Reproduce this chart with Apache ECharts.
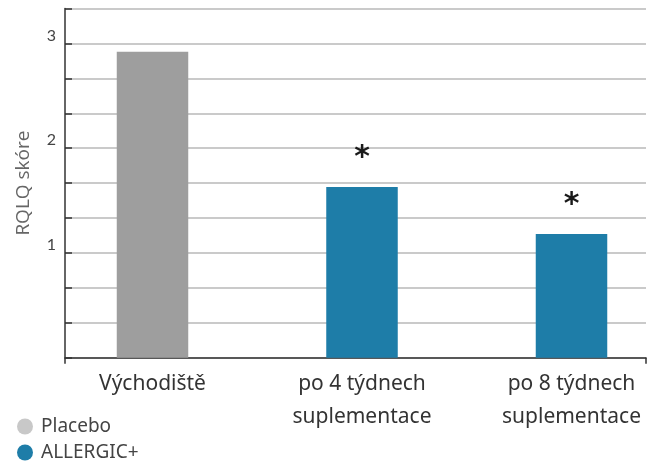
<!DOCTYPE html>
<html>
<head>
<meta charset="utf-8">
<script src="https://cdn.jsdelivr.net/npm/echarts@6/dist/echarts.min.js"></script>
<style>
  html, body { margin: 0; padding: 0; background: #ffffff; }
  #chart { width: 654px; height: 462px; }
</style>
</head>
<body>
<div id="chart"></div>
<script>
// RQLQ score at baseline and after 4 / 8 weeks of supplementation
const categories = ['Východiště', 'po 4 týdnech\nsuplementace', 'po 8 týdnech\nsuplementace'];
const placeboValues = [2.92, null, null];
const allergicValues = [null, 1.63, 1.18];
const significance = ['', '*', '*'];
const yTickLabels = [1, 2, 3];
const yMax = 10 / 3;
const yStep = 1 / 3;

const seriesNames = ['Placebo', 'ALLERGIC+'];
const barColors = ['#9e9e9e', '#1e7da8'];
const legendColors = ['#c8c8c8', '#1e7da8'];

const plotTop = 8.5;
const plotHeight = 349.2;

function withMarks(values) {
  return values.map((v, i) => v == null ? '-' : {
    value: v,
    label: { show: significance[i] !== '', formatter: significance[i] }
  });
}

// one legend block per series, stacked under the axis
function legendRow(i, top) {
  return {
    orient: 'vertical',
    left: 17,
    top: top,
    padding: 0,
    itemWidth: 16,
    itemHeight: 16,
    icon: 'circle',
    textStyle: { fontFamily: 'Noto Sans', fontSize: 19, color: '#444', padding: [0, 0, 0, 3] },
    data: [{ name: seriesNames[i], itemStyle: { color: legendColors[i] } }]
  };
}

const chart = echarts.init(document.getElementById('chart'), null, { renderer: 'canvas' });

chart.setOption({
  backgroundColor: '#ffffff',
  animation: false,
  legend: [legendRow(0, 417), legendRow(1, 443)],
  grid: [
    // frame: value axis, gridlines and baseline
    { left: 65, width: 581, top: plotTop, height: plotHeight },
    // bars and category labels; categories sit on the grid edges
    { left: 152.5, width: 419, top: plotTop, height: plotHeight }
  ],
  xAxis: [
    {
      gridIndex: 0, type: 'value', min: 0, max: 1, interval: 1,
      axisLine: { show: true, lineStyle: { color: '#333', width: 1.5 } },
      axisTick: { show: true, length: 6, lineStyle: { color: '#333', width: 1.5 } },
      axisLabel: { show: false },
      splitLine: { show: false }
    },
    {
      gridIndex: 1, type: 'category', data: categories, boundaryGap: false,
      axisLine: { show: false },
      axisTick: { show: false },
      axisLabel: {
        margin: 10, fontFamily: 'Noto Sans', fontSize: 21, lineHeight: 33,
        color: '#333', interval: 0
      }
    }
  ],
  yAxis: [
    {
      gridIndex: 0, type: 'value', min: 0, max: yMax, interval: yStep,
      name: 'RQLQ skóre', nameLocation: 'middle', nameGap: 32,
      nameTextStyle: { fontFamily: 'Open Sans', fontSize: 19, color: '#666' },
      axisLine: { show: true, lineStyle: { color: '#333', width: 1.5 } },
      axisTick: { show: true, inside: true, length: 7, lineStyle: { color: '#333', width: 1.5 } },
      axisLabel: {
        margin: 9, fontFamily: 'Lato', fontSize: 16, color: '#444', verticalAlign: 'bottom',
        formatter: v => {
          const r = Math.round(v);
          return Math.abs(v - r) < 1e-6 && yTickLabels.includes(r) ? String(r) : '';
        }
      },
      splitLine: { show: true, lineStyle: { color: '#b8b8b8', width: 1.6 } }
    },
    {
      gridIndex: 1, type: 'value', min: 0, max: yMax, interval: yStep, show: false
    }
  ],
  series: [
    {
      name: seriesNames[0], type: 'bar', xAxisIndex: 1, yAxisIndex: 1,
      barWidth: 71.5, barGap: '-100%',
      itemStyle: { color: barColors[0] },
      data: withMarks(placeboValues)
    },
    {
      name: seriesNames[1], type: 'bar', xAxisIndex: 1, yAxisIndex: 1,
      barWidth: 71.5, barGap: '-100%',
      itemStyle: { color: barColors[1] },
      label: {
        position: 'top', distance: 14,
        fontFamily: 'DejaVu Sans', fontSize: 30, fontWeight: 'bold', color: '#1a1a1a'
      },
      data: withMarks(allergicValues)
    }
  ]
});
</script>
</body>
</html>
